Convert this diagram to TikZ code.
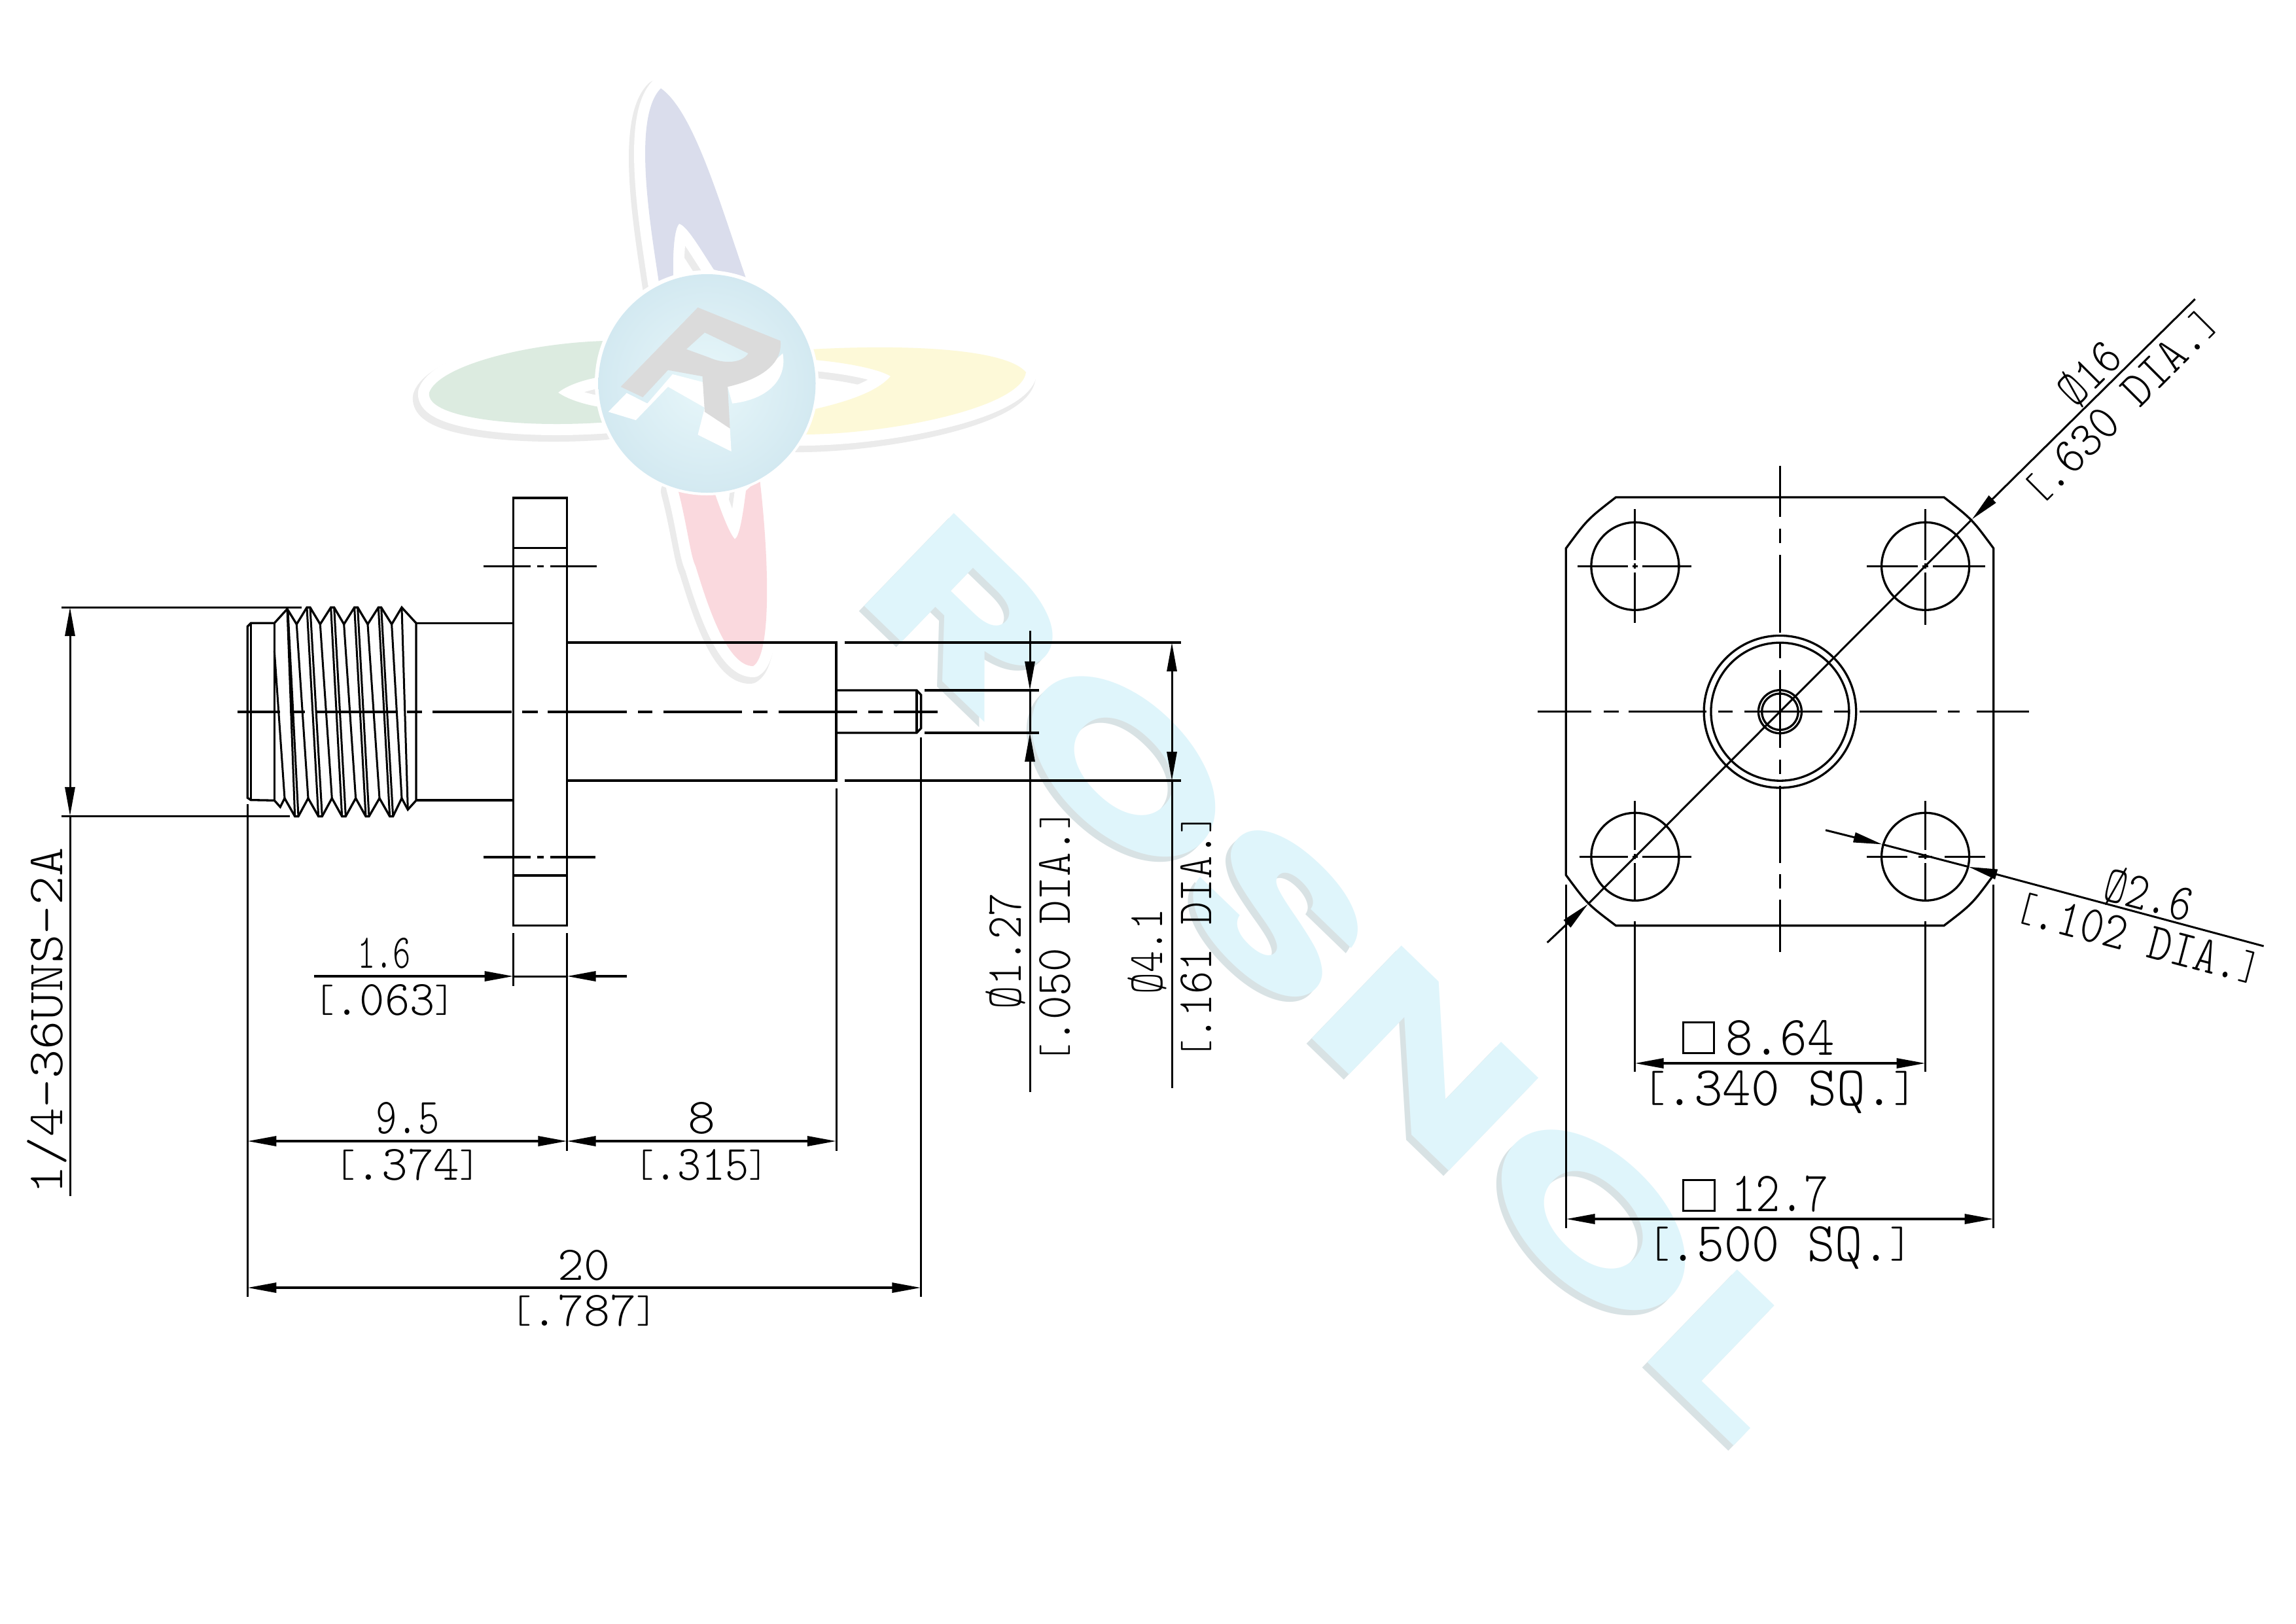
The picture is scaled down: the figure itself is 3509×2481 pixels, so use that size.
\documentclass[tikz,border=0pt]{standalone}
\usepackage{graphicx}
\usepackage{fontspec}
\newfontfamily\wmfont{Poppins}
\usetikzlibrary{arrows.meta}
\newlength\up \setlength\up{0.01cm}
\newlength\chh \newlength\chw
\definecolor{wmblue}{HTML}{DFF5FB}
\definecolor{wmshade}{HTML}{D8E2E4}
\definecolor{halo}{HTML}{EBEBEB}
\definecolor{pblue}{HTML}{DADDEC}
\definecolor{pgreen}{HTML}{DCEBE0}
\definecolor{pyellow}{HTML}{FDF9D8}
\definecolor{pred}{HTML}{FAD9DE}
\definecolor{sphin}{HTML}{E8F7FA}
\definecolor{sphout}{HTML}{D3E9F1}
\newcommand\cad{\fontfamily{lmtt}\fontseries{l}\fontshape{n}\selectfont\chh=\fontcharht\font`0\relax\chw=\fontcharwd\font`0\relax}
\newcommand\lb{\resizebox{0.8\chw}{\chh}{\raisebox{\depth}{[}}}
\newcommand\rb{\resizebox{0.8\chw}{\chh}{\raisebox{\depth}{]}}}
% \lab{rotation}{name}{cx}{cy}{w}{h}{text}
\newcommand\lab[7]{\node[lbl,rotate=#1] (#2) at (#3,#4) {\resizebox{#5\up}{#6\up}{\cad\vphantom{0}\smash{#7}}};}
\tikzset{
  lbl/.style={inner sep=0pt,outer sep=0pt,anchor=center},
  part/.style={line width=0.033cm,line join=miter},
  thin part/.style={line width=0.03cm},
  tip/.style={-{Triangle[length=0.44cm,width=0.15cm]}},
  halo g/.style={draw=halo,fill=halo,line width=0.40cm,line join=round},
  halo w/.style={draw=white,fill=white,line width=0.34cm,line join=round},
}
\begin{document}
\begin{tikzpicture}[x=0.01cm,y=-0.01cm]
\useasboundingbox (0,0) rectangle (3509,2481);
\fill[white] (0,0) rectangle (3509,2481);
% ---- logo watermark
\def\petalblue{(1010,135) .. controls (1060,170) and (1100,310) .. (1140,425) -- (1091,412) .. controls (1070,380) and (1050,345) .. (1038,342) .. controls (1030,350) and (1028,390) .. (1029,425) -- (1007,432) .. controls (995,350) and (965,180) .. (1010,135) -- cycle}
\def\petalgreen{(656,600) .. controls (670,560) and (800,525) .. (923,521) -- (923,575) .. controls (890,580) and (865,590) .. (853,600) .. controls (870,612) and (900,620) .. (923,623) -- (930,645) .. controls (800,655) and (650,640) .. (656,600) -- cycle}
\def\petalyellow{(1568,569) .. controls (1540,535) and (1400,525) .. (1238,534) -- (1245,550) .. controls (1300,555) and (1345,565) .. (1361,575) .. controls (1340,600) and (1290,615) .. (1242,626) -- (1221,664) .. controls (1350,665) and (1560,625) .. (1568,569) -- cycle}
\def\petalred{(1035,744) .. controls (1050,800) and (1055,850) .. (1063,865) .. controls (1080,920) and (1110,1018) .. (1151,1018) .. controls (1180,1000) and (1175,850) .. (1161,731) -- (1140,750) .. controls (1135,790) and (1130,820) .. (1123,824) .. controls (1115,815) and (1105,790) .. (1091,750) -- cycle}
\foreach \p in {\petalblue,\petalgreen,\petalyellow,\petalred}{
  \path[halo g,shift={(-5,7)}] \p;
}
\foreach \p in {\petalblue,\petalgreen,\petalyellow,\petalred}{
  \path[halo w] \p;
}
\fill[pblue] \petalblue;
\fill[pgreen] \petalgreen;
\fill[pyellow] \petalyellow;
\fill[pred] \petalred;
\fill[white] (1080,585) circle[x radius=171,y radius=172];
\shade[inner color=sphin,outer color=sphout] (1080.5,586) circle[x radius=166,y radius=167];
\begin{scope}[shift={(600,100)},xscale=0.7015,yscale=0.6378]
  \fill[white] (470,830) -- (510,785) -- (555,810) -- (610,740) -- (680,760) -- (735,870) -- (738,925) -- (665,885) -- (680,820) -- (600,770) -- (530,850) -- cycle;
  \fill[white] (850,690) .. controls (860,750) and (820,800) .. (740,810) -- (730,770) -- (800,740) -- cycle;
  \fill[black!14,even odd rule] (497,770) -- (665,580) -- (845,660) .. controls (850,710) and (810,750) .. (730,770) -- (735,870) -- (680,830) -- (675,745) -- (600,730) -- (545,795) -- cycle
    (640,680) -- (680,640) -- (775,690) .. controls (760,715) and (720,715) .. (690,700) -- cycle;
\end{scope}
% ---- text watermark
\node[lbl,rotate=-44,text=wmshade] (wmshadow) at (2039,1498) {\resizebox{1883\up}{200\up}{\wmfont\bfseries ROSNOL}};
\node[lbl,rotate=-44,text=wmblue] (wmtext) at (2047,1490) {\resizebox{1883\up}{200\up}{\wmfont\bfseries ROSNOL}};
% ---- side view: threaded body
\begin{scope}[shift={(360,900)},xscale=0.3333,yscale=0.3333]
  \draw[part] (55,172) -- (70,157) -- (178,157) -- (237,92) -- (280,162) -- (327,85) -- (342,85) -- (388,162) -- (437,85) -- (452,85) -- (497,162) -- (545,85) -- (560,85) -- (606,162) -- (655,85) -- (668,85) -- (716,162) -- (762,85) -- (828,157) -- (828,970) -- (790,1012) -- (762,960) -- (722,1043) -- (707,1043) -- (660,960) -- (612,1043) -- (597,1043) -- (551,960) -- (505,1043) -- (488,1043) -- (442,960) -- (397,1043) -- (380,1043) -- (333,960) -- (288,1043) -- (272,1043) -- (225,960) -- (205,1000) -- (178,970) -- (70,968) -- (55,958) -- cycle;
  \draw[part] (70,157) -- (70,968) (178,157) -- (178,970);
  \draw[thin part] (178,285) -- (225,960) (237,92) -- (272,1043) (240,100) -- (288,1043) (280,162) -- (333,960)
    (327,85) -- (380,1043) (342,85) -- (397,1043) (388,162) -- (442,960) (437,85) -- (488,1043) (452,85) -- (505,1043)
    (497,162) -- (551,960) (545,85) -- (597,1043) (560,85) -- (612,1043) (606,162) -- (660,960) (655,85) -- (707,1043)
    (668,85) -- (722,1043) (716,162) -- (762,960) (762,85) -- (790,1012);
\end{scope}
% neck, flange, barrel, pin
\draw[part] (636,952.5) -- (784.6,952.5) (636,1223) -- (784.6,1223);
\draw[part] (784.6,761) rectangle (866.5,1414.6);
\draw[part] (784.6,837.3) -- (866.5,837.3) (784.6,1338) -- (866.5,1338);
\draw[part] (866.5,982) -- (1278,982) -- (1278,1193) -- (866.5,1193);
\draw[part] (1278,1055) -- (1401,1055) -- (1407.6,1062) -- (1407.6,1113) -- (1401,1120) -- (1278,1120);
\draw[part] (1401,1055) -- (1401,1120);
% centre lines, side view
\draw[part] (363,1088) -- (428,1088) (443,1088) -- (466,1088) (484,1088) -- (605.6,1088) (621.6,1088) -- (644.6,1088)
  (661,1088) -- (781.6,1088) (797.6,1088) -- (822,1088) (837,1088) -- (958,1088) (975,1088) -- (996.6,1088)
  (1013.5,1088) -- (1134,1088) (1151,1088) -- (1172.6,1088) (1189.5,1088) -- (1310,1088) (1327,1088) -- (1348.7,1088) (1365.5,1088) -- (1433,1088);
\draw[part] (738.7,865.4) -- (810.6,865.4) (820.6,865.4) -- (831.3,865.4) (841.3,865.4) -- (912.4,865.4);
\draw[part] (738.7,1310) -- (810.6,1310) (820.6,1310) -- (831.3,1310) (841.3,1310) -- (910,1310);
% extension lines, side view
\draw[thin part] (93.7,928) -- (461,928) (93.7,1247) -- (442.7,1247);
\draw[thin part] (378.3,1229) -- (378.3,1982);
\draw[thin part] (784.6,1426) -- (784.6,1506.6) (866.5,1426) -- (866.5,1759);
\draw[thin part] (1278,1205) -- (1278,1759) (1407.3,1127) -- (1407.3,1982);
\draw[part] (1290.6,982) -- (1805,982) (1290.6,1193) -- (1805,1193);
\draw[part] (1413,1055) -- (1588,1055) (1413,1120) -- (1588,1120);
% dimension lines, side view
\draw[thin part,tip] (107,1087) -- (107,928);
\draw[thin part,tip] (107,1087) -- (107,1247);
\draw[thin part] (107,1247) -- (107,1828);
\draw[part,tip] (480,1492) -- (784.6,1492);
\draw[part,tip] (958,1492) -- (866.5,1492);
\draw[thin part] (784.6,1492) -- (866.5,1492);
\draw[part,tip] (623,1744) -- (378.3,1744);
\draw[part,tip] (623,1744) -- (866.5,1744);
\draw[part,tip] (1072,1744) -- (866.5,1744);
\draw[part,tip] (1072,1744) -- (1278,1744);
\draw[part,tip] (892,1968) -- (378.3,1968);
\draw[part,tip] (892,1968) -- (1407.3,1968);
\draw[thin part,tip] (1574,964) -- (1574,1055);
\draw[thin part,tip] (1574,1669) -- (1574,1120);
\draw[thin part] (1574,1055) -- (1574,1120);
\draw[thin part,tip] (1791,1087) -- (1791,982);
\draw[thin part,tip] (1791,1087) -- (1791,1193);
\draw[thin part] (1791,1193) -- (1791,1663);
% labels, side view
\lab{0}{t16}{587}{1457}{82}{46}{1.6}
\lab{0}{t063}{588}{1528}{214}{47}{\lb.063\rb}
\lab{0}{t95}{623}{1709}{97}{48}{9.5}
\lab{0}{t374}{623}{1780.5}{222}{47}{\lb.374\rb}
\lab{0}{t8}{1072}{1709}{42}{48}{8}
\lab{0}{t315}{1072}{1780.5}{203}{47}{\lb.315\rb}
\lab{0}{t20}{892.5}{1934}{80}{46}{20}
\lab{0}{t787}{892.5}{2003.5}{224}{47}{\lb.787\rb}
\lab{90}{tthread}{72}{1560.5}{530}{48}{1/4-36UNS-2A}
\lab{90}{t127}{1537}{1453.5}{178}{48}{Ø1.27}
\lab{90}{t050}{1612.5}{1431}{386}{47}{\lb.050 DIA.\rb}
\lab{90}{t41}{1753.5}{1454}{131}{47}{Ø4.1}
\lab{90}{t161}{1828.5}{1431.5}{372}{47}{\lb.161 DIA.\rb}
% ---- front view
\draw[part] (2469.5,760) -- (2971,760) .. controls (3014,793.7) .. (3046.7,838) -- (3046.7,1337.4) .. controls (3014,1381.7) .. (2971,1414.6) -- (2469.5,1414.6) .. controls (2426,1381.7) .. (2393.3,1337.4) -- (2393.3,838) .. controls (2426,793.7) .. (2469.5,760) -- cycle;
\foreach \cx/\cy in {2498.9/865.3,2942.6/865.3,2498.9/1309.3,2942.6/1309.3}{
  \draw[part] (\cx,\cy) circle[radius=67];
}
\draw[part] (2720.4,1087.7) circle[radius=116.3] (2720.4,1087.7) circle[radius=105.5]
  (2720.4,1087.7) circle[radius=33] (2720.4,1087.7) circle[radius=27.8];
% hole centre marks
\draw[thin part] (2411,865.3) -- (2488,865.3) (2495,865.3) -- (2503,865.3) (2510,865.3) -- (2585,865.3)
  (2498.9,778) -- (2498.9,855.5) (2498.9,861) -- (2498.9,869) (2498.9,874.5) -- (2498.9,952);
\draw[thin part] (2853,865.3) -- (2931,865.3) (2938,865.3) -- (2947,865.3) (2954,865.3) -- (3033.5,865.3)
  (2942.6,778) -- (2942.6,855.5) (2942.6,861) -- (2942.6,869) (2942.6,874.5) -- (2942.6,955);
\draw[thin part] (2414,1309.3) -- (2488,1309.3) (2495,1309.3) -- (2503,1309.3) (2510,1309.3) -- (2585,1309.3)
  (2498.9,1224) -- (2498.9,1299) (2498.9,1305) -- (2498.9,1313) (2498.9,1319) -- (2498.9,1377);
\draw[thin part] (2853,1309.3) -- (2915,1309.3) (2932,1309.3) -- (2953,1309.3) (2972,1309.3) -- (3033.5,1309.3)
  (2942.6,1224) -- (2942.6,1299) (2942.6,1305) -- (2942.6,1313) (2942.6,1319) -- (2942.6,1377);
% main centre lines, front view
\draw[part] (2350,1087.7) -- (2432,1087.7) (2451,1087.7) -- (2474,1087.7) (2489,1087.7) -- (2608,1087.7) (2626,1087.7) -- (2648,1087.7)
  (2666,1087.7) -- (2785,1087.7) (2802.7,1087.7) -- (2825,1087.7) (2841.7,1087.7) -- (2960,1087.7) (2977,1087.7) -- (2995,1087.7) (3021,1087.7) -- (3101,1087.7);
\draw[part] (2720.4,711.7) -- (2720.4,790) (2720.4,808) -- (2720.4,830) (2720.4,848) -- (2720.4,966.7) (2720.4,984) -- (2720.4,1006)
  (2720.4,1024) -- (2720.4,1143) (2720.4,1160.7) -- (2720.4,1182.7) (2720.4,1200.7) -- (2720.4,1319) (2720.4,1336) -- (2720.4,1358) (2720.4,1375) -- (2720.4,1454.6);
% dimension lines, front view
\coordinate (dA) at (3354.7,457);
\coordinate (dB) at (2364.7,1440.5);
\coordinate (tipA) at (3013.7,793.7);
\coordinate (tipB) at (2427,1381.6);
\draw[thin part,tip] (dA) -- (tipA);
\draw[thin part,tip] (dB) -- (tipB);
\draw[thin part] (tipA) -- (tipB);
\coordinate (eA) at (2790,1268.7);
\coordinate (eB) at (3459.6,1446);
\coordinate (tipC) at (2876.6,1290.4);
\coordinate (tipD) at (3008.6,1324.8);
\draw[thin part,tip] (eA) -- (tipC);
\draw[thin part,tip] (eB) -- (tipD);
\draw[thin part] (tipC) -- (tipD);
\draw[thin part] (2393.6,1351.5) -- (2393.6,1877) (3046.6,1351.5) -- (3046.6,1877);
\draw[thin part] (2498.6,1408) -- (2498.6,1638) (2942.5,1408) -- (2942.5,1638);
\draw[part,tip] (2720,1625) -- (2498.6,1625);
\draw[part,tip] (2720,1625) -- (2942.5,1625);
\draw[part,tip] (2720,1863) -- (2393.6,1863);
\draw[part,tip] (2720,1863) -- (3046.6,1863);
% labels, front view
\lab{0}{t864}{2720.8}{1586}{166}{53}{8.64}
\lab{0}{t340}{2720}{1663.5}{419}{53}{\lb.340 SQ.\rb}
\lab{0}{t127b}{2720}{1824.6}{148}{54}{12.7}
\lab{0}{t500}{2720}{1901.5}{404}{53}{\lb.500 SQ.\rb}
\lab{45}{tphi16}{3193}{571}{105}{48}{Ø16}
\lab{45}{t630}{3241}{621}{390}{48}{\lb.630 DIA.\rb}
\lab{-14.8}{tphi26}{3284}{1368}{137}{50}{Ø2.6}
\lab{-14.8}{t102}{3267.6}{1434}{381}{50}{\lb.102 DIA.\rb}
\draw[thin part] (2572,1562.5) rectangle (2619.7,1609.3);
\draw[thin part] (2572.9,1803.6) rectangle (2620,1850.7);
\end{tikzpicture}
\end{document}
